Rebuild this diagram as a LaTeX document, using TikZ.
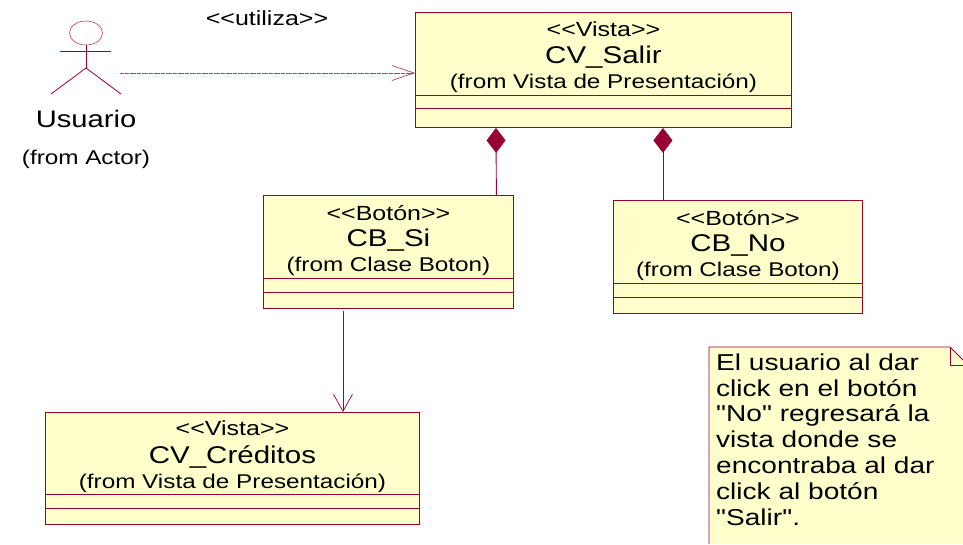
\documentclass[tikz,border=0pt]{standalone}
\usepackage{fontspec}
\setmainfont{Liberation Sans}[FakeStretch=1.22,Ligatures=TeXOff]
\usetikzlibrary{arrows.meta,shapes.geometric}
\definecolor{umlline}{HTML}{990033}
\definecolor{umlfill}{HTML}{FFFFCC}
\newcommand{\stereofont}{\fontsize{20.5}{25}\selectfont}
\newcommand{\namefont}{\fontsize{24.2}{25}\selectfont}
\newcommand{\fromfont}{\fontsize{19.9}{25}\selectfont}
\tikzset{
  classbox/.style={draw=umlline, fill=umlfill, line width=0.9pt, inner sep=0pt, anchor=north west},
  classtext/.style={align=center, inner sep=0pt, anchor=base, text=black, font=\fontsize{20}{25}\selectfont},
  divider/.style={draw=umlline, line width=0.8pt},
  actorline/.style={draw=umlline, line width=0.8pt},
  compo/.style={draw=umlline, line width=0.9pt, {Diamond[length=25pt,width=19pt,fill=umlline]}-},
  arrowto/.style={draw=umlline, line width=0.7pt, -{Straight Barb[length=17pt,width=19pt]}},
  dependency/.style={draw=umlline!75, line width=0.7pt, dash pattern=on 2pt off 0.4pt, -{Straight Barb[length=22pt,width=15pt]}},
}

\begin{document}
\begin{tikzpicture}[x=1pt,y=-1pt]
\useasboundingbox (0,0) rectangle (963,544);

% actor
\node[draw=umlline!75, ellipse, line width=0.6pt, minimum width=33pt, minimum height=24pt, inner sep=0pt] (head) at (86,33) {};
\coordinate (hip) at (86,68);
\coordinate (handleft) at (60,51);
\coordinate (handright) at (111,51);
\coordinate (footleft) at (51,94);
\coordinate (footright) at (121,94);
\coordinate (actorend) at (120,73);
\draw[actorline] (head.south) -- (hip);
\draw[actorline] (handleft) -- (handright);
\draw[actorline] (footleft) -- (hip) -- (footright);
\node[anchor=base, font=\fontsize{23.9}{25}\selectfont, inner sep=0pt] (usuario) at (86,127) {Usuario};
\node[anchor=base, font=\fromfont, inner sep=0pt] (fromactor) at (86,164) {(from Actor)};
\node[anchor=base, font=\stereofont, inner sep=0pt] (utiliza) at (267,25) {<<utiliza>>};

% classes
\node[classbox, minimum width=376pt, minimum height=115pt] (salir) at (415,12) {};
\node[classtext] (salirtext) at ([yshift=39pt]salir.south)
{{\stereofont <<Vista>>}\\[2pt]{\namefont CV\_Salir}\\{\fromfont (from Vista de Presentación)}};
\draw[divider] ([yshift=33pt]salir.south west) -- ([yshift=33pt]salir.south east);
\draw[divider] ([yshift=20pt]salir.south west) -- ([yshift=20pt]salir.south east);

\node[classbox, minimum width=250pt, minimum height=113pt] (si) at (263,195) {};
\node[classtext] (sitext) at ([yshift=37pt]si.south)
{{\stereofont <<Botón>>}\\[1pt]{\namefont CB\_Si}\\{\fromfont (from Clase Boton)}};
\draw[divider] ([yshift=31pt]si.south west) -- ([yshift=31pt]si.south east);
\draw[divider] ([yshift=17pt]si.south west) -- ([yshift=17pt]si.south east);

\node[classbox, minimum width=249pt, minimum height=113pt] (no) at (613,200) {};
\node[classtext] (notext) at ([yshift=37pt]no.south)
{{\stereofont <<Botón>>}\\[1pt]{\namefont CB\_No}\\{\fromfont (from Clase Boton)}};
\draw[divider] ([yshift=31pt]no.south west) -- ([yshift=31pt]no.south east);
\draw[divider] ([yshift=17pt]no.south west) -- ([yshift=17pt]no.south east);

\node[classbox, minimum width=374pt, minimum height=112pt] (creditos) at (45,412) {};
\node[classtext] (creditostext) at ([yshift=36pt]creditos.south)
{{\stereofont <<Vista>>}\\[3pt]{\namefont CV\_Créditos}\\{\fromfont (from Vista de Presentación)}};
\draw[divider] ([yshift=31pt]creditos.south west) -- ([yshift=31pt]creditos.south east);
\draw[divider] ([yshift=17pt]creditos.south west) -- ([yshift=17pt]creditos.south east);

% note
\fill[umlfill] (709,347) -- (950,347) -- (963,360) -- (963,544) -- (709,544) -- cycle;
\draw[umlline, line width=0.9pt] (709,544) -- (709,347) -- (950,347) -- (963,360);
\draw[umlline, line width=0.7pt] (950,347) -- (950,365) -- (963,365);
\node[anchor=base west, align=left, inner sep=0pt, font=\fontsize{23}{25.8}\selectfont] (notetext) at (716,525)
{El usuario al dar\\click en el botón\\"No" regresará la\\vista donde se\\encontraba al dar\\click al botón\\"Salir".};

% connectors
\draw[dependency] (actorend) -- (salir.west |- actorend);
\draw[compo] ([xshift=-107.5pt]salir.south) -- ([xshift=-17.5pt]si.north east);
\draw[compo] ([xshift=59.5pt]salir.south) -- ([xshift=-75pt]no.north);
\draw[arrowto] ([xshift=-45.5pt,yshift=-2pt]si.south) -- ([xshift=110.5pt]creditos.north);
\end{tikzpicture}
\end{document}
